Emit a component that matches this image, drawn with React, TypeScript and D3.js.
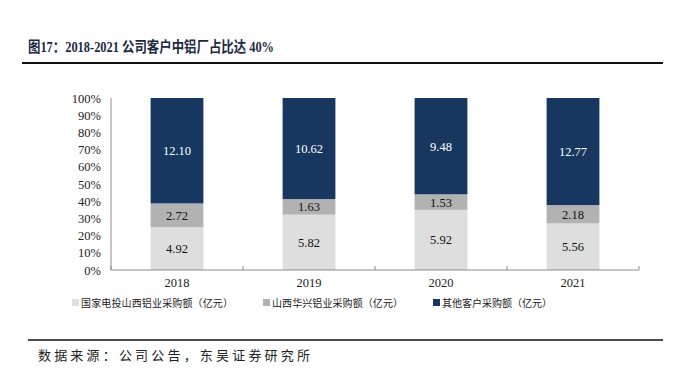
import * as d3 from 'd3';
import React, { useEffect, useRef } from 'react';

// chart data
const years = ['2018', '2019', '2020', '2021'];
const spicValues = [4.92, 5.82, 5.92, 5.56];
const huaxingValues = [2.72, 1.63, 1.53, 2.18];
const otherValues = [12.10, 10.62, 9.48, 12.77];
const seriesNames = ['国家电投山西铝业采购额（亿元）', '山西华兴铝业采购额（亿元）', '其他客户采购额（亿元）'];
const seriesColors = ['#dedede', '#b2b2b2', '#183760'];
const labelColors = ['#111', '#111', '#fff'];
const yTicks = [0, 0.1, 0.2, 0.3, 0.4, 0.5, 0.6, 0.7, 0.8, 0.9, 1];

const W = 678;
const H = 372;
const serif = '"Liberation Serif", "Times New Roman", serif';
const cjk = '"Noto Sans CJK SC", sans-serif';

const App = () => {
	const chartRef = useRef<SVGSVGElement>(null);

	useEffect(() => {
		const svg = d3.select(chartRef.current);
		svg.selectAll('*').remove();

		// title + rules
		svg.append('text')
			.attr('x', 28).attr('y', 52)
			.attr('font-family', `${serif}, ${cjk}`)
			.attr('font-weight', 'bold')
			.attr('font-size', 14.5)
			.attr('fill', '#1b2a44')
			.attr('textLength', 246)
			.attr('lengthAdjust', 'spacingAndGlyphs')
			.text('图17：2018-2021 公司客户中铝厂占比达 40%');
		svg.append('line')
			.attr('x1', 22).attr('x2', 663).attr('y1', 63).attr('y2', 63)
			.attr('stroke', '#111').attr('stroke-width', 2);
		svg.append('line')
			.attr('x1', 28).attr('x2', 663).attr('y1', 340).attr('y2', 340)
			.attr('stroke', '#111').attr('stroke-width', 1.5);
		svg.append('text')
			.attr('x', 38).attr('y', 360)
			.attr('font-family', cjk)
			.attr('font-size', 13)
			.attr('fill', '#222')
			.attr('textLength', 272)
			.attr('lengthAdjust', 'spacing')
			.text('数据来源：公司公告，东吴证券研究所');

		const margin = { left: 111, right: 39, top: 98, bottom: 102 };
		const plotW = W - margin.left - margin.right;
		const plotH = H - margin.top - margin.bottom;
		const g = svg.append('g').attr('transform', `translate(${margin.left},${margin.top})`);

		const x = d3.scaleBand().domain(years).range([0, plotW]).paddingInner(0.6).paddingOuter(0.3);
		const y = d3.scaleLinear().domain([0, 1]).range([plotH, 0]);

		const table = years.map((yr, i) => ({ year: yr, s0: spicValues[i], s1: huaxingValues[i], s2: otherValues[i] }));
		const stack = d3.stack<any>().keys(['s0', 's1', 's2']).offset(d3.stackOffsetExpand);
		const layers = stack(table);

		layers.forEach((layer, li) => {
			const lg = g.append('g');
			lg.selectAll('rect')
				.data(layer)
				.enter().append('rect')
				.attr('x', d => x(d.data.year)!)
				.attr('width', x.bandwidth())
				.attr('y', d => y(d[1]))
				.attr('height', d => y(d[0]) - y(d[1]))
				.attr('fill', seriesColors[li]);
			lg.selectAll('text')
				.data(layer)
				.enter().append('text')
				.attr('x', d => x(d.data.year)! + x.bandwidth() / 2)
				.attr('y', d => (y(d[0]) + y(d[1])) / 2 + 4.5)
				.attr('text-anchor', 'middle')
				.attr('font-family', serif)
				.attr('font-size', 12.5)
				.attr('fill', labelColors[li])
				.text(d => (d.data as any)['s' + li].toFixed(2));
		});

		// y axis
		g.append('line').attr('x1', 0).attr('x2', 0).attr('y1', 0).attr('y2', plotH)
			.attr('stroke', '#8c8c8c');
		g.selectAll('.ytick')
			.data(yTicks)
			.enter().append('text')
			.attr('x', -10)
			.attr('y', d => y(d) + 4.5)
			.attr('text-anchor', 'end')
			.attr('font-family', serif)
			.attr('font-size', 12.5)
			.attr('fill', '#222')
			.text(d => `${Math.round(d * 100)}%`);

		// x axis
		g.append('line').attr('x1', 0).attr('x2', plotW).attr('y1', plotH).attr('y2', plotH)
			.attr('stroke', '#8c8c8c');
		const bounds = d3.range(years.length + 1).map(i => i * plotW / years.length);
		g.selectAll('.xtick')
			.data(bounds)
			.enter().append('line')
			.attr('x1', d => d).attr('x2', d => d)
			.attr('y1', plotH - 4).attr('y2', plotH)
			.attr('stroke', '#8c8c8c');
		g.selectAll('.xlabel')
			.data(years)
			.enter().append('text')
			.attr('x', d => x(d)! + x.bandwidth() / 2)
			.attr('y', plotH + 17)
			.attr('text-anchor', 'middle')
			.attr('font-family', serif)
			.attr('font-size', 12.5)
			.attr('fill', '#222')
			.text(d => d);

		// legend
		const legendX = [72, 263, 433];
		const legendW = [152, 131, 110];
		seriesNames.forEach((name, i) => {
			svg.append('rect')
				.attr('x', legendX[i]).attr('y', 299)
				.attr('width', 7).attr('height', 7)
				.attr('fill', seriesColors[i]);
			svg.append('text')
				.attr('x', legendX[i] + 9).attr('y', 307)
				.attr('font-family', cjk)
				.attr('font-size', 10)
				.attr('fill', '#222')
				.attr('textLength', legendW[i])
				.attr('lengthAdjust', 'spacing')
				.text(name);
		});
	}, []);

	return (
		<svg ref={chartRef} width={W} height={H}
			style={{ position: 'absolute', left: 0, top: 0, background: '#fff' }} />
	);
};

export default App;
